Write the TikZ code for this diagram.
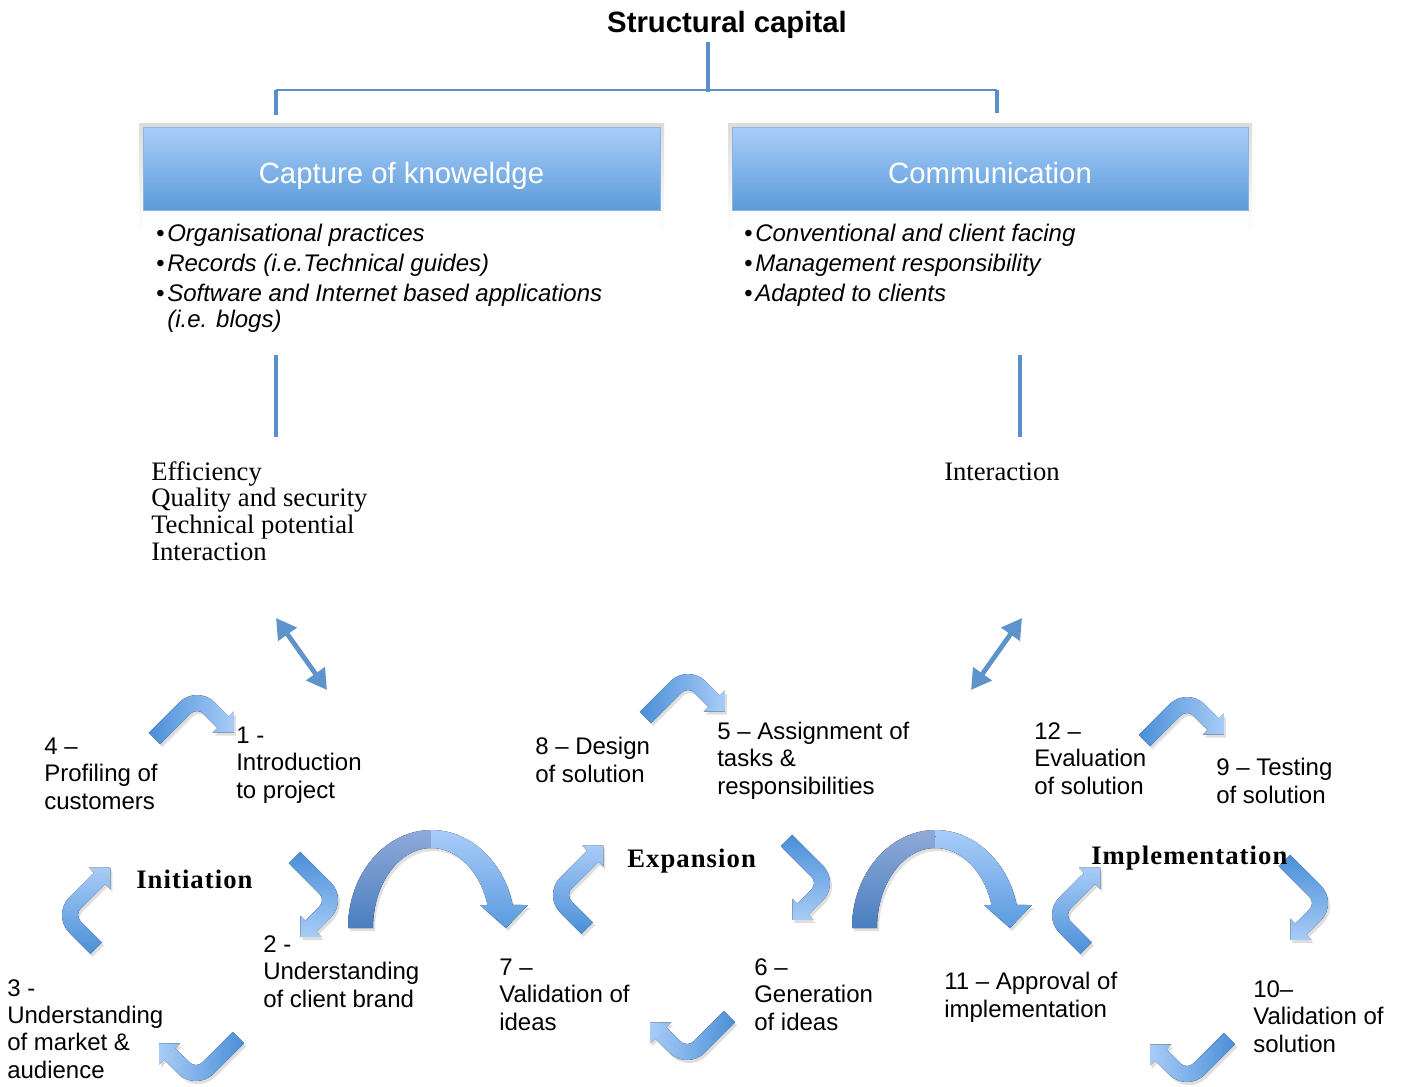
\documentclass[tikz,border=0pt]{standalone}
\usepackage{fontspec}
\setmainfont{Liberation Serif}
\setsansfont{Liberation Sans}
\newfontfamily\arialf{Liberation Sans}
\newfontfamily\timesls[LetterSpace=4]{Liberation Serif}
\usetikzlibrary{arrows.meta,calc}
\definecolor{conn}{RGB}{91,143,201}
\definecolor{darr}{RGB}{94,147,203}
\definecolor{boxtop}{RGB}{170,205,249}
\definecolor{boxbot}{RGB}{91,155,217}
\definecolor{boxline}{RGB}{141,179,226}
\definecolor{bdark}{RGB}{74,143,216}
\definecolor{blight}{RGB}{168,204,247}
\definecolor{adarkT}{RGB}{143,170,216}
\definecolor{adarkB}{RGB}{74,126,192}
\definecolor{alightT}{RGB}{169,205,249}
\definecolor{alightB}{RGB}{90,155,224}
\newcommand\bendarrow[5]{%
  \begin{scope}[transform canvas={shift={(#1+2,-#2-3)},rotate=#3}]
    \fill[black,opacity=0.13] ($(135:25)+(-135:#4)$) -- (135:25) arc[start angle=135,end angle=45,radius=25] -- ++(-45:#5) -- ++(45:7) -- ++(-90:21.2) -- ++(180:21.2) -- ++(45:7) -- (45:9) arc[start angle=45,end angle=135,radius=9] -- ++(-135:#4) -- cycle;
  \end{scope}
  \begin{scope}[transform canvas={shift={(#1,-#2)},rotate=#3}]
    \fill[left color=bdark,right color=blight] ($(135:25)+(-135:#4)$) -- (135:25) arc[start angle=135,end angle=45,radius=25] -- ++(-45:#5) -- ++(45:7) -- ++(-90:21.2) -- ++(180:21.2) -- ++(45:7) -- (45:9) arc[start angle=45,end angle=135,radius=9] -- ++(-135:#4) -- cycle;
  \end{scope}}
\begin{document}
\begin{tikzpicture}[x=0.75pt,y=0.75pt,
  conline/.style={draw=conn,line width=3.2pt},
  thinline/.style={draw=conn,line width=1.5pt},
  darrow/.style={draw=darr,line width=3.6pt,{Triangle[length=15pt,width=16.5pt]}-{Triangle[length=15pt,width=16.5pt]}},
  hbox/.style={draw=boxline,line width=0.6pt,top color=boxtop,bottom color=boxbot,minimum width=387.75pt,minimum height=62.25pt,inner sep=0pt,outer sep=0pt},
  boxtxt/.style={font=\arialf\fontsize{22}{26}\selectfont,text=white,anchor=base,inner sep=0pt},
  bul/.style={font=\arialf\itshape\fontsize{18}{19.5}\selectfont,anchor=base west,align=left,inner sep=0pt},
  lbl/.style={font=\arialf\fontsize{18}{20.5}\selectfont,anchor=base west,align=left,inner sep=0pt},
  serif/.style={font=\fontsize{20}{20}\selectfont,anchor=base west,align=left,inner sep=0pt},
  phase/.style={font=\timesls\bfseries\fontsize{20}{24}\selectfont,anchor=base west,inner sep=0pt}]
\fill[white] (0,0) rectangle (1403,-1086);
\useasboundingbox (0,0) rectangle (1403,-1086);

% title
\node[font=\arialf\bfseries\fontsize{22}{26}\selectfont,anchor=base,inner sep=0pt] (title) at (727,-32) {Structural capital};

% tree connector
\coordinate (tA) at (708,-42);
\coordinate (tB) at (708,-92);
\coordinate (hL) at (276,-90);
\coordinate (hR) at (997,-90);
\coordinate (kL) at (276,-115);
\coordinate (kR) at (997,-113);
\draw[thinline] (hL) -- (hR);
\draw[conline] (tA) -- (tB);
\draw[conline] (hL) -- (kL);
\draw[conline] (hR) -- (kR);

% box shadows and panes
\fill[top color=black!14,bottom color=white] (139,-123) rectangle (664,-232);
\fill[white] (143,-210) rectangle (660,-245);
\fill[top color=black!14,bottom color=white] (728,-123) rectangle (1252,-232);
\fill[white] (732,-210) rectangle (1248,-245);

% boxes
\node[hbox] (capture) at (401.5,-168.5) {};
\node[hbox,minimum width=387pt] (comm) at (990,-168.5) {};
\node[boxtxt] (capturet) at (401.5,-183) {Capture of knoweldge};
\node[boxtxt] (commt) at (990,-183) {Communication};

% bullets left
\node[bul] (b1) at (167,-241) {\llap{•\hspace{2pt}}Organisational practices};
\node[bul] (b2) at (167,-271) {\llap{•\hspace{2pt}}Records (i.e.Technical guides)};
\node[bul] (b3) at (167,-327) {\llap{•\hspace{2pt}}Software and Internet based applications\\(i.e. blogs)};
% bullets right
\node[bul] (c1) at (755,-241) {\llap{•\hspace{2pt}}Conventional and client facing};
\node[bul] (c2) at (755,-271) {\llap{•\hspace{2pt}}Management responsibility};
\node[bul] (c3) at (755,-301) {\llap{•\hspace{2pt}}Adapted to clients};

% vertical connectors
\coordinate (vL1) at (276,-355);
\coordinate (vL2) at (276,-437);
\coordinate (vR1) at (1020,-355);
\coordinate (vR2) at (1020,-437);
\draw[conline] (vL1) -- (vL2);
\draw[conline] (vR1) -- (vR2);

% serif texts
\node[serif] (eff) at (151,-560) {Efficiency\\Quality and security\\Technical potential\\Interaction};
\node[serif] (inter) at (944,-480) {Interaction};

% double arrows
\coordinate (dA1) at (276,-618);
\coordinate (dA2) at (327,-690);
\coordinate (dB1) at (1022,-618);
\coordinate (dB2) at (971,-690);
\draw[darrow] (dA1) -- (dA2);
\draw[darrow] (dB1) -- (dB2);

% big arcs
\foreach \dx in {0,504} {
  \begin{scope}[shift={(\dx,0)}]
    \fill[black,opacity=0.12,shift={(2,-3)}] (348,-928) arc[start angle=180,end angle=13.6,x radius=83.5,y radius=98] -- (528,-905) -- (506,-928) -- (480,-905) -- (487.5,-905) arc[start angle=16.7,end angle=180,x radius=58.5,y radius=80] -- cycle;
    \fill[top color=adarkT,bottom color=adarkB] (348,-928) arc[start angle=180,end angle=90,x radius=83.5,y radius=98] -- (431.5,-848) arc[start angle=90,end angle=180,x radius=58.5,y radius=80] -- cycle;
    \fill[top color=alightT,bottom color=alightB] (431.5,-830) arc[start angle=90,end angle=13.6,x radius=83.5,y radius=98] -- (528,-905) -- (506,-928) -- (480,-905) -- (487.5,-905) arc[start angle=16.7,end angle=90,x radius=58.5,y radius=80] -- cycle;
  \end{scope}
}

% cycle arrows: Initiation
\bendarrow{197}{720}{0}{43}{20}
\bendarrow{313}{900}{-90}{43}{20}
\bendarrow{196}{1056}{180}{43}{20}
\bendarrow{87}{915}{90}{30}{35}
% Expansion
\bendarrow{688}{699}{0}{43}{20}
\bendarrow{805}{883}{-90}{43}{20}
\bendarrow{687}{1035}{180}{43}{20}
\bendarrow{578}{895}{90}{30}{38}
% Implementation
\bendarrow{1187}{722}{0}{43}{20}
\bendarrow{1303}{903}{-90}{43}{20}
\bendarrow{1187}{1057}{180}{43}{20}
\bendarrow{1077}{915}{90}{30}{35}

% phase labels
\node[phase] (init) at (136,-888) {Initiation};
\node[phase] (expa) at (627,-867) {Expansion};
\node[phase] (impl) at (1091,-864) {Implementation};

% step labels (anchored at the baseline of the last line)
\node[lbl] (s4) at (44,-809) {4 –\\Profiling of\\customers};
\node[lbl] (s1) at (236,-798) {1 -\\Introduction\\to project};
\node[lbl] (s2) at (263,-1007) {2 -\\Understanding\\of client brand};
\node[lbl] (s3) at (7,-1078) {3 -\\Understanding\\of market \&\\audience};
\node[lbl] (s8) at (535,-782) {8 – Design\\of solution};
\node[lbl] (s5) at (717,-794) {5 – Assignment of\\tasks \&\\responsibilities};
\node[lbl] (s7) at (499,-1030) {7 –\\Validation of\\ideas};
\node[lbl] (s6) at (754,-1030) {6 –\\Generation\\of ideas};
\node[lbl] (s12) at (1034,-794) {12 –\\Evaluation\\of solution};
\node[lbl] (s9) at (1216,-803) {9 – Testing\\of solution};
\node[lbl] (s11) at (944,-1017) {11 – Approval of\\implementation};
\node[lbl] (s10) at (1253,-1052) {10–\\Validation of\\solution};
\end{tikzpicture}
\end{document}
